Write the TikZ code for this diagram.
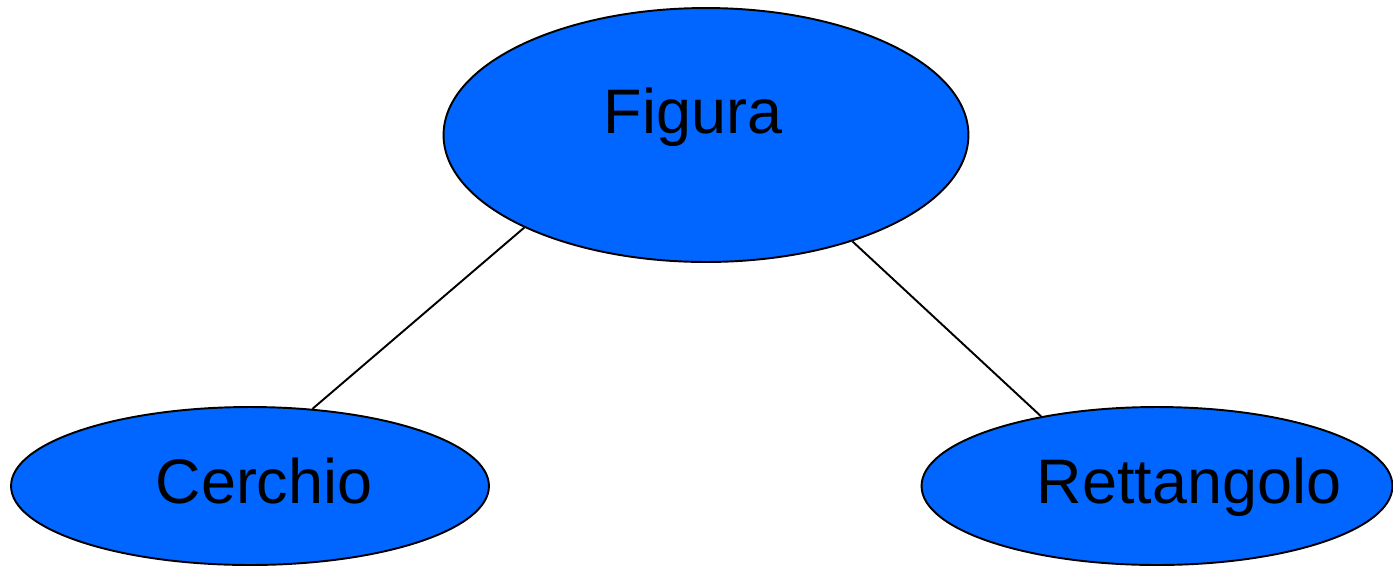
\documentclass[tikz,border=0pt]{standalone}
\usepackage{fontspec}
\setmainfont{Liberation Sans}
\usepackage{tikz}
\usetikzlibrary{shapes.geometric}
\definecolor{figblue}{RGB}{0,102,255}

\begin{document}
\begin{tikzpicture}[x=0.02cm, y=-0.02cm, font=\fontsize{35.8}{43}\selectfont,
	blob/.style={ellipse, draw=black, line width=1.1pt, fill=figblue, inner sep=0pt},
	word/.style={anchor=base, inner sep=0pt}]
		\useasboundingbox (0,0) rectangle (1393,566);
		%ellipses
		\node[blob, minimum width=10.5cm, minimum height=5.08cm] (figura) at (706,135) {};
		\node[blob, minimum width=9.56cm, minimum height=3.16cm] (cerchio) at (250,486) {};
		\node[blob, minimum width=9.42cm, minimum height=3.16cm] (rettangolo) at (1157,486) {};
		%labels
		\node[word] (figura text) at (693,133) {Figura};
		\node[word] (cerchio text) at (264,503) {Cerchio};
		\node[word] (rettangolo text) at (1189,503) {Rettangolo};
		%lines
		\draw[line width=1.1pt] (figura.207.7) -- (cerchio.51.3);
		\draw[line width=1.1pt] (figura.-36.4) -- (rettangolo.149.4);
\end{tikzpicture}
\end{document}
